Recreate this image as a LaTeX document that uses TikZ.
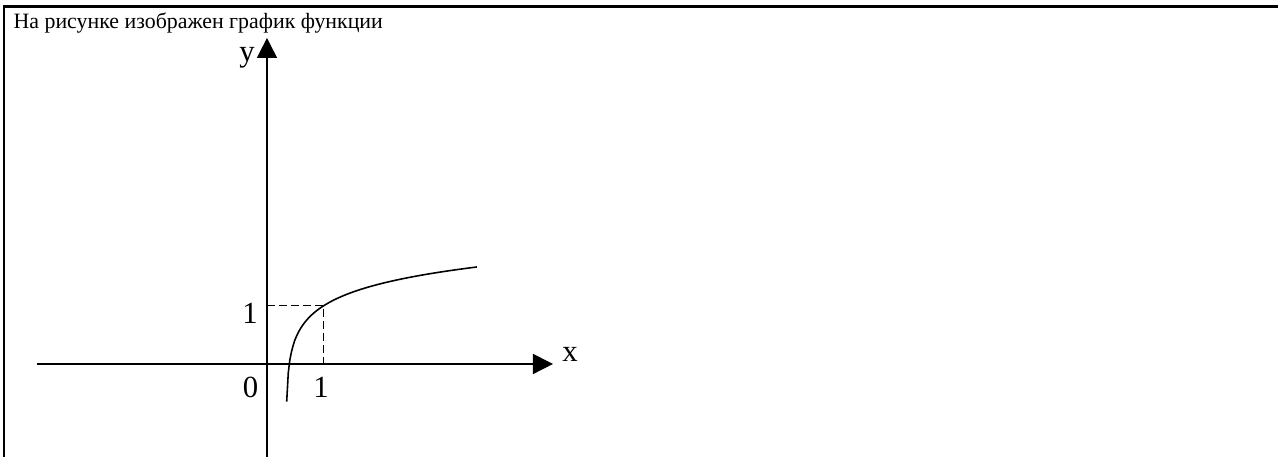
\documentclass[tikz,border=0pt]{standalone}
\usepackage{fontspec}
\setmainfont{Liberation Serif}
\usetikzlibrary{arrows.meta}

\begin{document}
\begin{tikzpicture}[x=1.15cm, y=1.15cm]
    \tikzstyle{axis}=[
        line width = 0.9pt,
        -{Triangle[length=0.4cm, width=0.4cm]}
    ]
    \tikzstyle{helper}=[
        line width = 0.8pt,
        dash pattern = on 0.16cm off 0.08cm
    ]
    \tikzstyle{label}=[
        inner sep = 0pt,
        anchor = base,
        font = \fontsize{17.5}{21}\selectfont
    ]

    \useasboundingbox (-4.643, -1.617) rectangle (17.583, 6.330);

    % frame and caption
    \draw[line width = 1.2pt] (-4.569, -1.617) -- (-4.569, 6.217) -- (17.583, 6.217);
    \node[inner sep = 0pt, anchor = base west, font = \fontsize{12.45}{15}\selectfont]
        (caption) at (-4.412, 5.835) {На рисунке изображен график функции};

    \coordinate (xstart) at (-4.0, 0);
    \coordinate (xend)   at (4.974, 0);
    \coordinate (ystart) at (0, -1.617);
    \coordinate (yend)   at (0, 5.670);
    \coordinate (xone)   at (0.985, 0);
    \coordinate (yone)   at (0, 1.012);
    \coordinate (p)      at (0.985, 1.012);

    \node[label] (xlab)  at (5.27, 0.035)    {x};
    \node[label] (ylab)  at (-0.348, 5.252)  {y};
    \node[label] (zero)  at (-0.287, -0.591) {0};
    \node[label] (one)   at (-0.296, 0.696)  {1};
    \node[label] (onex)  at (0.939, -0.591)  {1};

    \draw[axis] (xstart) -- (xend);
    \draw[axis] (ystart) -- (yend);
    \draw[helper] (yone) -- (p) -- (xone);

    % graph of the function
    \draw[line width = 0.9pt, domain = 0.343:3.652, samples = 120, variable = \t]
        plot ({\t}, {0.4154*ln(\t - 0.3312) + 1.1885});

\end{tikzpicture}
\end{document}
